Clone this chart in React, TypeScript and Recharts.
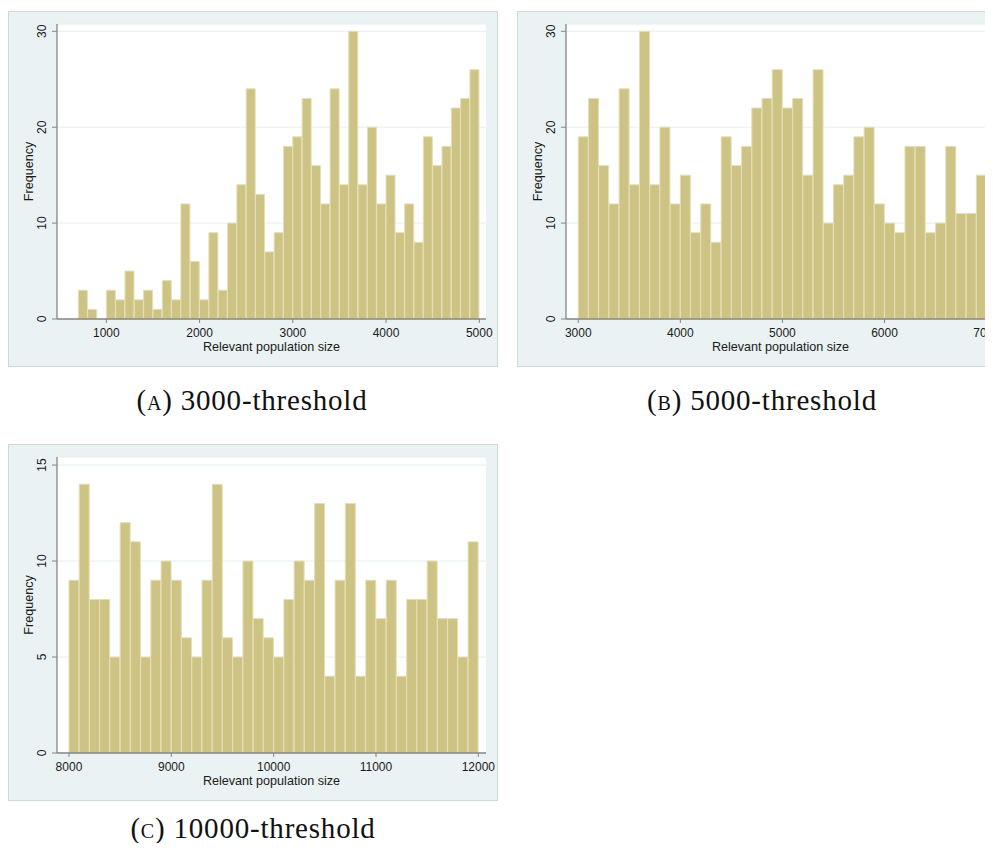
import React from 'react';
import { BarChart, Bar, XAxis, YAxis, CartesianGrid, Label } from 'recharts';

// ---- Data (bin start values and frequencies, bin width 100) ----
const binsA = [700, 800, 900, 1000, 1100, 1200, 1300, 1400, 1500, 1600, 1700, 1800, 1900, 2000, 2100, 2200, 2300, 2400, 2500, 2600, 2700, 2800, 2900, 3000, 3100, 3200, 3300, 3400, 3500, 3600, 3700, 3800, 3900, 4000, 4100, 4200, 4300, 4400, 4500, 4600, 4700, 4800, 4900];
const countsA = [3, 1, 0, 3, 2, 5, 2, 3, 1, 4, 2, 12, 6, 2, 9, 3, 10, 14, 24, 13, 7, 9, 18, 19, 23, 16, 12, 24, 14, 30, 14, 20, 12, 15, 9, 12, 8, 19, 16, 18, 22, 23, 26];

const binsB = [3000, 3100, 3200, 3300, 3400, 3500, 3600, 3700, 3800, 3900, 4000, 4100, 4200, 4300, 4400, 4500, 4600, 4700, 4800, 4900, 5000, 5100, 5200, 5300, 5400, 5500, 5600, 5700, 5800, 5900, 6000, 6100, 6200, 6300, 6400, 6500, 6600, 6700, 6800, 6900];
const countsB = [19, 23, 16, 12, 24, 14, 30, 14, 20, 12, 15, 9, 12, 8, 19, 16, 18, 22, 23, 26, 22, 23, 15, 26, 10, 14, 15, 19, 20, 12, 10, 9, 18, 18, 9, 10, 18, 11, 11, 15];

const binsC = [8000, 8100, 8200, 8300, 8400, 8500, 8600, 8700, 8800, 8900, 9000, 9100, 9200, 9300, 9400, 9500, 9600, 9700, 9800, 9900, 10000, 10100, 10200, 10300, 10400, 10500, 10600, 10700, 10800, 10900, 11000, 11100, 11200, 11300, 11400, 11500, 11600, 11700, 11800, 11900];
const countsC = [9, 14, 8, 8, 5, 12, 11, 5, 9, 10, 9, 6, 5, 9, 14, 6, 5, 10, 7, 6, 5, 8, 10, 9, 13, 4, 9, 13, 4, 9, 7, 9, 4, 8, 8, 10, 7, 7, 5, 11];

const binWidth = 100;

const xTicksA = [1000, 2000, 3000, 4000, 5000];
const xTicksB = [3000, 4000, 5000, 6000, 7000];
const xTicksC = [8000, 9000, 10000, 11000, 12000];
const yTicksAB = [0, 10, 20, 30];
const yTicksC = [0, 5, 10, 15];

const xDomainA = [471, 5072];
const xDomainB = [2880, 7082];
const xDomainC = [7883, 12075];
const yDomainAB = [0, 30.76];
const yDomainC = [0, 15.42];

const xTitle = 'Relevant population size';
const yTitle = 'Frequency';

const toRows = (bins: number[], counts: number[]) =>
  bins.map((b, i) => ({ mid: b + binWidth / 2, freq: counts[i] }));

const FONT = '"Liberation Sans", Arial, Helvetica, sans-serif';
const SERIF = '"Liberation Serif", "Times New Roman", serif';
const AXIS = '#858585';
const TEXT = '#1a1a1a';
const BAR_FILL = '#cdc385';
const BAR_STROKE = '#e6dfb3';
const FRAME_BG = '#eaf2f3';
const TICK_FS = 12;
const TITLE_FS = 12.6;

function YTick(props: any) {
  const { x, y, payload } = props;
  const bx = x - 4;
  return (
    <text
      x={bx}
      y={y}
      transform={`rotate(-90 ${bx} ${y})`}
      textAnchor="middle"
      fontFamily={FONT}
      fontSize={TICK_FS}
      fill={TEXT}
    >
      {payload.value}
    </text>
  );
}

type PanelProps = {
  rows: { mid: number; freq: number }[];
  xDomain: number[];
  xTicks: number[];
  yDomain: number[];
  yTicks: number[];
  left: number;
  top: number;
  height: number;
  plotTop: number;
  plotHeight: number;
};

function Panel({ rows, xDomain, xTicks, yDomain, yTicks, left, top, height, plotTop, plotHeight }: PanelProps) {
  const width = 490;
  const yAxisW = 49;
  const plotW = 429;
  const xAxisH = height - plotTop - plotHeight;
  return (
    <div
      style={{
        position: 'absolute',
        left,
        top,
        width,
        height,
        background: FRAME_BG,
        boxShadow: 'inset 0 0 0 1px #cfd7d9',
      }}
    >
      <BarChart
        width={width}
        height={height}
        data={rows}
        margin={{ top: plotTop, right: width - yAxisW - plotW, left: 0, bottom: 0 }}
        barCategoryGap={0}
        barGap={0}
      >
        <CartesianGrid horizontal vertical={false} stroke="#e6eeef" strokeWidth={1} fill="#ffffff" />
        <XAxis
          dataKey="mid"
          type="number"
          domain={xDomain}
          ticks={xTicks}
          interval={0}
          allowDataOverflow
          height={xAxisH}
          tickSize={4}
          tickMargin={5}
          axisLine={{ stroke: AXIS, strokeWidth: 1.3 }}
          tickLine={{ stroke: AXIS }}
          tick={{ fill: TEXT, fontSize: TICK_FS, fontFamily: FONT }}
        >
          <Label
            value={xTitle}
            position="insideBottom"
            offset={16}
            style={{ fill: TEXT, fontSize: TITLE_FS, fontFamily: FONT }}
          />
        </XAxis>
        <YAxis
          type="number"
          domain={yDomain}
          ticks={yTicks}
          interval={0}
          allowDataOverflow
          width={yAxisW}
          tickSize={5}
          tickMargin={2}
          axisLine={{ stroke: AXIS, strokeWidth: 1.3 }}
          tickLine={{ stroke: AXIS }}
          tick={<YTick />}
        >
          <Label
            value={yTitle}
            angle={-90}
            position="insideLeft"
            offset={21}
            style={{ fill: TEXT, fontSize: TITLE_FS, fontFamily: FONT, textAnchor: 'middle' }}
          />
        </YAxis>
        <Bar dataKey="freq" fill={BAR_FILL} stroke={BAR_STROKE} strokeWidth={1} isAnimationActive={false} />
      </BarChart>
    </div>
  );
}

function Caption({ letter, rest, cx, top }: { letter: string; rest: string; cx: number; top: number }) {
  return (
    <div
      style={{
        position: 'absolute',
        left: cx - 200,
        top,
        width: 400,
        textAlign: 'center',
        fontFamily: SERIF,
        fontSize: 29,
        lineHeight: '29px',
        letterSpacing: 0.8,
        color: '#111',
        whiteSpace: 'nowrap',
      }}
    >
      (<span style={{ fontVariant: 'small-caps' }}>{letter}</span>) {rest}
    </div>
  );
}

export default function App() {
  return (
    <div style={{ position: 'relative', width: 985, height: 835, overflow: 'hidden', background: '#fff' }}>
      <Panel
        rows={toRows(binsA, countsA)}
        xDomain={xDomainA}
        xTicks={xTicksA}
        yDomain={yDomainAB}
        yTicks={yTicksAB}
        left={0}
        top={3}
        height={356}
        plotTop={13}
        plotHeight={295}
      />
      <Panel
        rows={toRows(binsB, countsB)}
        xDomain={xDomainB}
        xTicks={xTicksB}
        yDomain={yDomainAB}
        yTicks={yTicksAB}
        left={509}
        top={3}
        height={356}
        plotTop={13}
        plotHeight={295}
      />
      <Panel
        rows={toRows(binsC, countsC)}
        xDomain={xDomainC}
        xTicks={xTicksC}
        yDomain={yDomainC}
        yTicks={yTicksC}
        left={0}
        top={436}
        height={357}
        plotTop={13}
        plotHeight={296}
      />
      <Caption letter="a" rest="3000-threshold" cx={244} top={378} />
      <Caption letter="b" rest="5000-threshold" cx={754} top={378} />
      <Caption letter="c" rest="10000-threshold" cx={245} top={806} />
    </div>
  );
}
